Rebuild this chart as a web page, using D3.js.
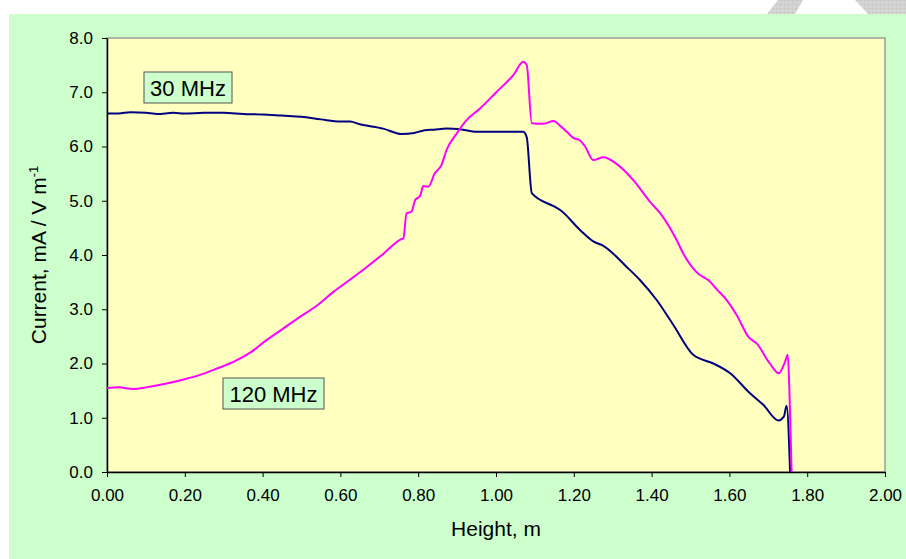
<!DOCTYPE html>
<html>
<head>
<meta charset="utf-8">
<script src="https://cdn.jsdelivr.net/npm/d3@7"></script>
<style>
  body { margin: 0; background: #fff; }
  svg { display: block; font-family: "Liberation Sans", Arial, sans-serif; }
</style>
</head>
<body>
<svg id="chart" width="906" height="559"></svg>
<script>
// 30 MHz series (height m, current mA / V m-1)
const h30 = [0.00, 0.03, 0.06, 0.10, 0.13, 0.17, 0.20, 0.25, 0.30, 0.35, 0.40, 0.45, 0.50, 0.55, 0.60, 0.625, 0.65, 0.71, 0.757, 0.79, 0.817, 0.84, 0.873, 0.907, 0.95, 1.00, 1.07, 1.079, 1.092, 1.148, 1.165, 1.216, 1.25, 1.276, 1.336, 1.370, 1.413, 1.456, 1.507, 1.559, 1.602, 1.653, 1.687, 1.726, 1.740, 1.747, 1.756];
const c30 = [6.61, 6.61, 6.63, 6.62, 6.60, 6.62, 6.61, 6.62, 6.62, 6.60, 6.59, 6.57, 6.55, 6.50, 6.46, 6.46, 6.41, 6.33, 6.23, 6.25, 6.30, 6.31, 6.33, 6.32, 6.27, 6.27, 6.27, 6.17, 5.14, 4.90, 4.83, 4.46, 4.25, 4.17, 3.78, 3.54, 3.17, 2.71, 2.16, 2.00, 1.82, 1.45, 1.24, 0.95, 1.02, 1.22, 0.00];

// 120 MHz series
const h120 = [0.00, 0.03, 0.068, 0.10, 0.153, 0.20, 0.239, 0.28, 0.325, 0.37, 0.41, 0.45, 0.496, 0.54, 0.582, 0.62, 0.668, 0.71, 0.753, 0.762, 0.770, 0.783, 0.792, 0.805, 0.813, 0.826, 0.843, 0.860, 0.873, 0.899, 0.925, 0.959, 1.002, 1.045, 1.070, 1.079, 1.092, 1.122, 1.148, 1.165, 1.182, 1.199, 1.216, 1.229, 1.250, 1.276, 1.310, 1.353, 1.396, 1.422, 1.464, 1.482, 1.516, 1.550, 1.567, 1.593, 1.619, 1.649, 1.670, 1.704, 1.727, 1.743, 1.750, 1.754, 1.760];
const c120 = [1.55, 1.56, 1.53, 1.56, 1.63, 1.71, 1.79, 1.90, 2.03, 2.21, 2.43, 2.63, 2.86, 3.07, 3.32, 3.52, 3.78, 4.02, 4.28, 4.31, 4.77, 4.80, 5.01, 5.09, 5.27, 5.26, 5.51, 5.66, 5.94, 6.24, 6.49, 6.70, 7.01, 7.32, 7.56, 7.50, 6.43, 6.42, 6.47, 6.38, 6.27, 6.16, 6.11, 6.00, 5.75, 5.80, 5.68, 5.38, 4.98, 4.77, 4.28, 4.02, 3.68, 3.51, 3.37, 3.17, 2.89, 2.49, 2.37, 2.00, 1.82, 2.03, 2.16, 1.57, 0.00];

const xTicks = [0, 0.2, 0.4, 0.6, 0.8, 1.0, 1.2, 1.4, 1.6, 1.8, 2.0];
const yTicks = [0, 1, 2, 3, 4, 5, 6, 7, 8];

const svg = d3.select("#chart");
const W = 906, H = 559;
const plot = { left: 107, top: 38, right: 885, bottom: 472 };

// scanned-page artefacts at the top edge
const defs = svg.append("defs");
const pat = defs.append("pattern")
    .attr("id", "hatch")
    .attr("width", 4).attr("height", 4)
    .attr("patternUnits", "userSpaceOnUse");
pat.append("rect").attr("width", 4).attr("height", 4).attr("fill", "#d6d6d6");
pat.append("path").attr("d", "M0 0H4M0 0V4").attr("stroke", "#c4c4c4").attr("stroke-width", 1);

svg.append("path")
    .attr("d", "M778 0L803 0L795 14L767 14Z")
    .attr("fill", "url(#hatch)");
svg.append("path")
    .attr("d", "M855 0L906 0L906 14L868 14Z")
    .attr("fill", "url(#hatch)");

// chart area background
svg.append("rect")
    .attr("x", 9).attr("y", 14)
    .attr("width", W - 9).attr("height", H - 14)
    .attr("fill", "#ccffcc");

// plot area
svg.append("rect")
    .attr("x", plot.left).attr("y", plot.top)
    .attr("width", plot.right - plot.left)
    .attr("height", plot.bottom - plot.top)
    .attr("fill", "#ffffc0")
    .attr("stroke", "#9c9c9c")
    .attr("stroke-width", 1.5);

const x = d3.scaleLinear().domain([0, 2]).range([plot.left, plot.right]);
const y = d3.scaleLinear().domain([0, 8]).range([plot.bottom, plot.top]);

const xAxis = svg.append("g")
    .attr("transform", `translate(0,${plot.bottom})`)
    .call(d3.axisBottom(x).tickValues(xTicks).tickFormat(d3.format(".2f")).tickSize(5).tickSizeOuter(0).tickPadding(12));

const yAxis = svg.append("g")
    .attr("transform", `translate(${plot.left},0)`)
    .call(d3.axisLeft(y).tickValues(yTicks).tickFormat(d3.format(".1f")).tickSize(5).tickSizeOuter(0).tickPadding(9));

[xAxis, yAxis].forEach(g => {
    g.select(".domain").attr("stroke", "#000").attr("stroke-width", 1.5);
    g.selectAll(".tick line").attr("stroke", "#000");
    g.selectAll(".tick text")
        .attr("fill", "#000")
        .style("font-size", "17px")
        .style("font-family", "Liberation Sans, Arial, sans-serif");
});

// series lines
const line = d3.line()
    .x(d => x(d[0]))
    .y(d => y(d[1]))
    .curve(d3.curveMonotoneX);

svg.append("path")
    .datum(d3.zip(h30, c30))
    .attr("fill", "none")
    .attr("stroke", "#000080")
    .attr("stroke-width", 2)
    .attr("d", line);

svg.append("path")
    .datum(d3.zip(h120, c120))
    .attr("fill", "none")
    .attr("stroke", "#ff00ff")
    .attr("stroke-width", 2)
    .attr("d", line);

// series labels
function seriesLabel(text, x0, y0, w, h) {
    svg.append("rect")
        .attr("x", x0).attr("y", y0)
        .attr("width", w).attr("height", h)
        .attr("fill", "#ccffcc")
        .attr("stroke", "#555")
        .attr("stroke-width", 1);
    svg.append("text")
        .attr("x", x0 + w / 2).attr("y", y0 + h / 2 + 8)
        .attr("text-anchor", "middle")
        .style("font-size", "22px")
        .text(text);
}
seriesLabel("30 MHz", 144, 72, 88, 31);
seriesLabel("120 MHz", 223, 378, 101, 31);

// axis titles
svg.append("text")
    .attr("x", (plot.left + plot.right) / 2)
    .attr("y", 536)
    .attr("text-anchor", "middle")
    .style("font-size", "21px")
    .text("Height, m");

const yt = svg.append("text")
    .attr("transform", `translate(46,${(plot.top + plot.bottom) / 2}) rotate(-90)`)
    .attr("text-anchor", "middle")
    .style("font-size", "21px");
yt.append("tspan").text("Current, mA / V m");
yt.append("tspan").attr("dy", -8).style("font-size", "13px").text("-1");
</script>
</body>
</html>
